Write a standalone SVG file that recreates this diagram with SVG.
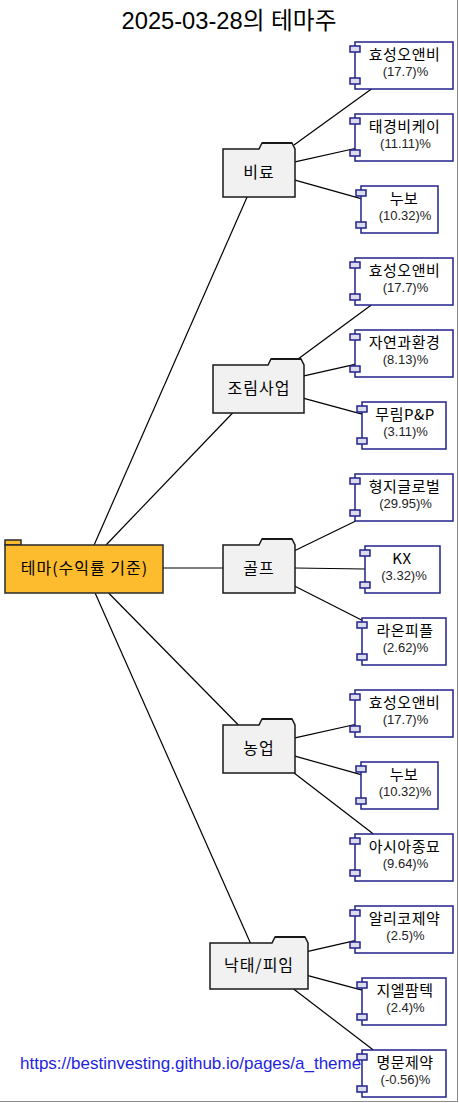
<svg xmlns="http://www.w3.org/2000/svg" width="459" height="1103" viewBox="0 0 459 1103">
<style>
.bg{fill:#ffffff}
.title{font-family:"Liberation Sans","Noto Sans CJK KR",sans-serif;font-size:23.7px;fill:#000;text-anchor:middle}
.folder{fill:#F1F1F1;stroke:#181818;stroke-width:1.5}
.tabtop{fill:none;stroke:#181818;stroke-width:2}
.root{fill:#FDBB2E;stroke:#2a2a2a;stroke-width:1.5}
.flabel{font-family:"Noto Sans CJK KR",sans-serif;font-size:16px;letter-spacing:1px;fill:#000;text-anchor:middle}
.comp{fill:#ffffff;stroke:#22228A;stroke-width:1.5}
.port{fill:#DCDCF0;stroke:#22228A;stroke-width:1.5}
.cname{font-family:"Noto Sans CJK KR",sans-serif;font-size:15px;letter-spacing:0.5px;fill:#000;text-anchor:middle}
.cpct{font-family:"Liberation Sans",sans-serif;font-size:13px;fill:#222;text-anchor:middle}
.link{stroke:#000;stroke-width:1.2;fill:none}
.url{font-family:"Liberation Sans",sans-serif;font-size:17px;fill:#1F1FE0}
</style>
<rect class="bg" x="0" y="0" width="459" height="1103"/>
<text class="title" x="229" y="29">2025-03-28의 테마주</text>

<g id="connectors">
<line class="link" x1="94.1" y1="545" x2="247.1" y2="197"/>
<line class="link" x1="106" y1="545" x2="232.6" y2="413"/>
<line class="link" x1="163" y1="568" x2="223" y2="568"/>
<line class="link" x1="108.6" y1="593" x2="238.4" y2="725"/>
<line class="link" x1="95.1" y1="593" x2="250.4" y2="943"/>
<line class="link" x1="294" y1="145" x2="371.4" y2="89"/>
<line class="link" x1="295" y1="161.9" x2="355" y2="148.5"/>
<line class="link" x1="295" y1="180.1" x2="361" y2="198.7"/>
<line class="link" x1="294" y1="362" x2="371.3" y2="305"/>
<line class="link" x1="304" y1="375.8" x2="355" y2="364.4"/>
<line class="link" x1="304" y1="398.4" x2="362" y2="414.1"/>
<line class="link" x1="295" y1="550.5" x2="355.7" y2="521"/>
<line class="link" x1="295" y1="568" x2="365" y2="569"/>
<line class="link" x1="295" y1="586.2" x2="362" y2="620.2"/>
<line class="link" x1="295" y1="737.9" x2="355" y2="724.5"/>
<line class="link" x1="295" y1="756.1" x2="361" y2="774.7"/>
<line class="link" x1="294.1" y1="773" x2="373.4" y2="834"/>
<line class="link" x1="308" y1="951.3" x2="355" y2="940.7"/>
<line class="link" x1="308" y1="975.7" x2="362" y2="990.2"/>
<line class="link" x1="293.6" y1="989" x2="373.3" y2="1050"/>
</g>

<g id="root">
<rect class="root" x="5" y="540" width="16" height="5"/>
<rect class="root" x="5" y="545" width="158" height="48"/>
<text class="flabel" x="84.5" y="574">테마(수익률 기준)</text>
</g>

<g id="f-biryo">
<path class="folder" d="M223,149 L259,149 L262,143 L292,143 L295,149 L295,197 L223,197 Z"/>
<path class="tabtop" d="M262,143 L292,143"/>
<text class="flabel" x="259" y="177.5">비료</text>
</g>
<g id="f-jorim">
<path class="folder" d="M213,365 L268,365 L271,359 L301,359 L304,365 L304,413 L213,413 Z"/>
<path class="tabtop" d="M271,359 L301,359"/>
<text class="flabel" x="259" y="393.5">조림사업</text>
</g>
<g id="f-golf">
<path class="folder" d="M223,545 L259,545 L262,539 L292,539 L295,545 L295,593 L223,593 Z"/>
<path class="tabtop" d="M262,539 L292,539"/>
<text class="flabel" x="259" y="573.5">골프</text>
</g>
<g id="f-nongup">
<path class="folder" d="M223,725 L259,725 L262,719 L292,719 L295,725 L295,773 L223,773 Z"/>
<path class="tabtop" d="M262,719 L292,719"/>
<text class="flabel" x="259" y="753.5">농업</text>
</g>
<g id="f-naktae">
<path class="folder" d="M210,943 L272,943 L275,937 L305,937 L308,943 L308,989 L210,989 Z"/>
<path class="tabtop" d="M275,937 L305,937"/>
<text class="flabel" x="259" y="970.5">낙태/피임</text>
</g>

<g id="c0"><rect class="comp" x="355" y="42" width="98" height="47"/><rect class="port" x="350" y="46" width="10" height="6"/><rect class="port" x="350" y="78" width="10" height="6"/><text class="cname" x="404.5" y="60">효성오앤비</text><text class="cpct" x="405.5" y="76">(17.7)%</text></g>
<g id="c1"><rect class="comp" x="355" y="114" width="98" height="47"/><rect class="port" x="350" y="118" width="10" height="6"/><rect class="port" x="350" y="150" width="10" height="6"/><text class="cname" x="404.5" y="132">태경비케이</text><text class="cpct" x="405.5" y="148">(11.11)%</text></g>
<g id="c2"><rect class="comp" x="361" y="186" width="77" height="47"/><rect class="port" x="356" y="190" width="10" height="6"/><rect class="port" x="356" y="222" width="10" height="6"/><text class="cname" x="404" y="204">누보</text><text class="cpct" x="405" y="220">(10.32)%</text></g>
<g id="c3"><rect class="comp" x="355" y="258" width="98" height="47"/><rect class="port" x="350" y="262" width="10" height="6"/><rect class="port" x="350" y="294" width="10" height="6"/><text class="cname" x="404.5" y="276">효성오앤비</text><text class="cpct" x="405.5" y="292">(17.7)%</text></g>
<g id="c4"><rect class="comp" x="355" y="330" width="98" height="47"/><rect class="port" x="350" y="334" width="10" height="6"/><rect class="port" x="350" y="366" width="10" height="6"/><text class="cname" x="404.5" y="348">자연과환경</text><text class="cpct" x="405.5" y="364">(8.13)%</text></g>
<g id="c5"><rect class="comp" x="362" y="402" width="84" height="47"/><rect class="port" x="357" y="406" width="10" height="6"/><rect class="port" x="357" y="438" width="10" height="6"/><text class="cname" x="405" y="420">무림P&amp;P</text><text class="cpct" x="405.5" y="436">(3.11)%</text></g>
<g id="c6"><rect class="comp" x="355" y="474" width="98" height="47"/><rect class="port" x="350" y="478" width="10" height="6"/><rect class="port" x="350" y="510" width="10" height="6"/><text class="cname" x="404.5" y="492">형지글로벌</text><text class="cpct" x="405.5" y="508">(29.95)%</text></g>
<g id="c7"><rect class="comp" x="365" y="546" width="75" height="47"/><rect class="port" x="360" y="550" width="10" height="6"/><rect class="port" x="360" y="582" width="10" height="6"/><text class="cname" x="402" y="564">KX</text><text class="cpct" x="404" y="580">(3.32)%</text></g>
<g id="c8"><rect class="comp" x="362" y="618" width="84" height="47"/><rect class="port" x="357" y="622" width="10" height="6"/><rect class="port" x="357" y="654" width="10" height="6"/><text class="cname" x="405" y="636">라온피플</text><text class="cpct" x="405.5" y="652">(2.62)%</text></g>
<g id="c9"><rect class="comp" x="355" y="690" width="98" height="47"/><rect class="port" x="350" y="694" width="10" height="6"/><rect class="port" x="350" y="726" width="10" height="6"/><text class="cname" x="404.5" y="708">효성오앤비</text><text class="cpct" x="405.5" y="724">(17.7)%</text></g>
<g id="c10"><rect class="comp" x="361" y="762" width="77" height="47"/><rect class="port" x="356" y="766" width="10" height="6"/><rect class="port" x="356" y="798" width="10" height="6"/><text class="cname" x="404" y="780">누보</text><text class="cpct" x="405" y="796">(10.32)%</text></g>
<g id="c11"><rect class="comp" x="355" y="834" width="98" height="47"/><rect class="port" x="350" y="838" width="10" height="6"/><rect class="port" x="350" y="870" width="10" height="6"/><text class="cname" x="404.5" y="852">아시아종묘</text><text class="cpct" x="405.5" y="868">(9.64)%</text></g>
<g id="c12"><rect class="comp" x="355" y="906" width="98" height="47"/><rect class="port" x="350" y="910" width="10" height="6"/><rect class="port" x="350" y="942" width="10" height="6"/><text class="cname" x="404.5" y="924">알리코제약</text><text class="cpct" x="405.5" y="940">(2.5)%</text></g>
<g id="c13"><rect class="comp" x="362" y="978" width="84" height="47"/><rect class="port" x="357" y="982" width="10" height="6"/><rect class="port" x="357" y="1014" width="10" height="6"/><text class="cname" x="405" y="996">지엘팜텍</text><text class="cpct" x="405.5" y="1012">(2.4)%</text></g>
<g id="c14"><rect class="comp" x="362" y="1050" width="84" height="47"/><rect class="port" x="357" y="1054" width="10" height="6"/><rect class="port" x="357" y="1086" width="10" height="6"/><text class="cname" x="405" y="1068">명문제약</text><text class="cpct" x="405.5" y="1084">(-0.56)%</text></g>

<text class="url" x="20" y="1069">https://bestinvesting.github.io/pages/a_theme</text>
<line x1="457.5" y1="0" x2="457.5" y2="1102" stroke="#8a8a8a" stroke-width="1"/>
<line x1="0" y1="1101.5" x2="458" y2="1101.5" stroke="#8a8a8a" stroke-width="1"/>
</svg>
